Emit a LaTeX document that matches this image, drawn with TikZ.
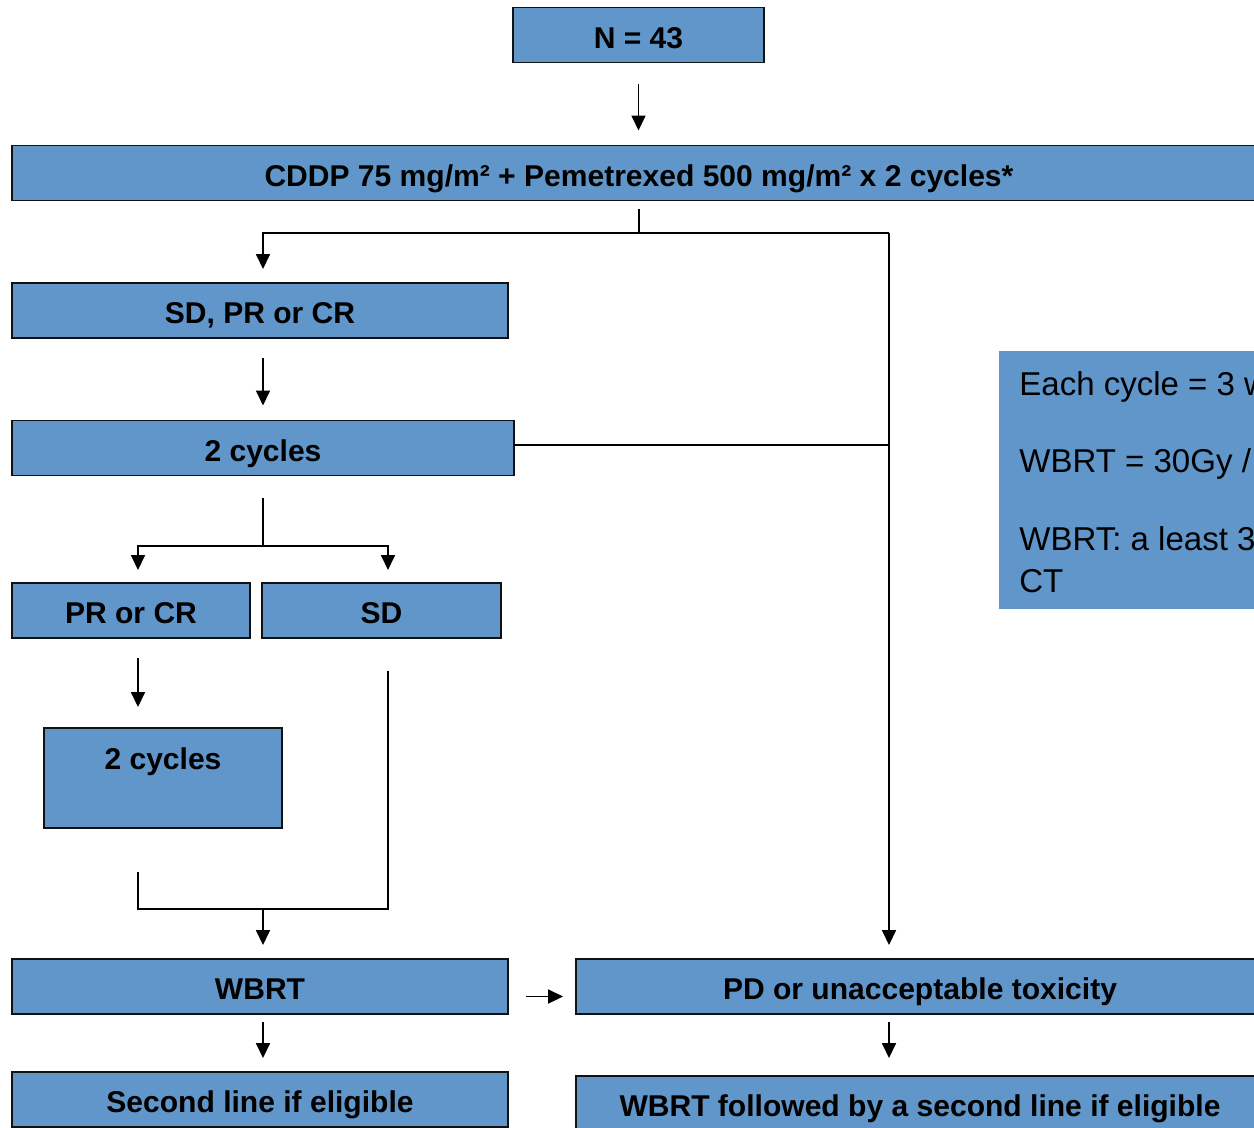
\documentclass[tikz,border=0pt]{standalone}
\usepackage{fontspec}
\setmainfont{Liberation Sans}
\usepackage{tikz}
\usetikzlibrary{arrows.meta, positioning, calc}
\definecolor{boxblue}{HTML}{6096C9}
\definecolor{boxink}{HTML}{111111}

\begin{document}
\begin{tikzpicture}[x=0.02cm, y=-0.02cm,
        box/.style={draw=boxink, fill=boxblue, line width=0.8pt, inner sep=0pt, outer sep=0pt, minimum height=1.1cm, font=\fontsize{17.1}{20}\selectfont\bfseries, text=black, align=center, text height=17pt, text depth=2pt},
        boxtext/.style={inner sep=0pt, font=\fontsize{17.1}{20}\selectfont\bfseries, text=black, text height=17pt, text depth=2pt},
        notebox/.style={fill=boxblue, inner sep=0pt, anchor=north west, minimum width=6cm, minimum height=5.16cm},
        notetext/.style={inner sep=0pt, anchor=base west, font=\fontsize{18.8}{22}\selectfont, text=black},
        line/.style={line width=1pt, black},
        arrow/.style={line, -{Triangle[width=0.28cm, length=0.3cm]}}
    ]
        \useasboundingbox (0,0) rectangle (1254,1127);
        \clip (0,0) rectangle (1254,1127);

        % boxes
        \node (n43) [box, minimum width=5.02cm] at (638.5,35) {N = 43};
        \node (cddp) [box, minimum width=25.08cm] at (639,173) {CDDP 75 mg/m² + Pemetrexed 500 mg/m² x 2 cycles*};
        \node (sdpr) [box, minimum width=9.92cm] at (260,310.5) {SD, PR or CR};
        \node (cyc1) [box, minimum width=10.04cm] at (263,448) {2 cycles};
        \node (prcr) [box, minimum width=4.76cm] at (131,610.5) {PR or CR};
        \node (sd) [box, minimum width=4.78cm] at (381.5,610.5) {SD};
        \node (cyc2) [box, minimum width=4.76cm, minimum height=2cm] at (163,778) {};
        \node (cyc2txt) [boxtext] at ([yshift=-0.56cm]cyc2.north) {2 cycles};
        \node (wbrt) [box, minimum width=9.92cm] at (260,986.5) {WBRT};
        \node (second) [box, minimum width=9.92cm] at (260,1099.5) {Second line if eligible};
        \node (pd) [box, minimum width=13.76cm] at (920,986.5) {PD or unacceptable toxicity};
        \node (wbrtf) [box, minimum width=13.76cm] at (920,1103.5) {WBRT followed by a second line if eligible};

        % side note
        \node (note) [notebox] at (999,351) {};
        \node (note1) [notetext] at (1019,395) {Each cycle = 3 w};
        \node (note2) [notetext] at (1019,472) {WBRT = 30Gy /};
        \node (note3) [notetext] at (1019,550) {WBRT: a least 3};
        \node (note4) [notetext] at (1019,592) {CT};

        % branch points
        \coordinate (split1) at (639,233);
        \coordinate (rail) at (889,233);
        \coordinate (split2) at (263,546);
        \coordinate (colL) at (138,0);
        \coordinate (colR) at (388,0);
        \coordinate (join) at (263,909);

        % connectors
        \draw [arrow, shorten <=0.44cm, shorten >=0.3cm] (n43.south) -- (n43.south |- cddp.north);
        \draw [line, shorten <=0.16cm] (cddp.south -| split1) -- (split1);
        \draw [arrow, shorten >=0.28cm] (split1) -| (cyc1.north |- sdpr.north);
        \draw [line] (split1) -- (rail);
        \draw [arrow, shorten >=0.28cm] (rail) -- (rail |- pd.north);
        \draw [arrow, shorten <=0.4cm, shorten >=0.3cm] (sdpr.south -| cyc1.north) -- (cyc1.north);
        \draw [line] ([yshift=0.06cm]cyc1.east) -- ([yshift=0.06cm]cyc1.east -| rail);

        \draw [line, shorten <=0.44cm] (cyc1.south) -- (split2);
        \draw [arrow, shorten >=0.26cm] (split2) -| (colL |- prcr.north);
        \draw [arrow, shorten >=0.26cm] (split2) -| (colR |- sd.north);
        \draw [arrow, shorten <=0.4cm, shorten >=0.42cm] (colL |- prcr.south) -- (colL |- cyc2.north);

        \draw [line, shorten <=0.88cm, shorten >=0.66cm] (colL |- cyc2.south) -- (colL |- join) -- (colR |- join) -- (colR |- sd.south);
        \draw [arrow, shorten >=0.28cm] (join) -- (join |- wbrt.north);
        \draw [arrow, shorten <=0.16cm, shorten >=0.28cm] (wbrt.south -| join) -- (join |- second.north);
        \draw [arrow, shorten <=0.36cm, shorten >=0.26cm] ([yshift=-0.2cm]wbrt.east) -- ([yshift=-0.2cm]pd.west);
        \draw [arrow, shorten <=0.16cm, shorten >=0.36cm] (pd.south -| rail) -- (wbrtf.north -| rail);
    \end{tikzpicture}
\end{document}
